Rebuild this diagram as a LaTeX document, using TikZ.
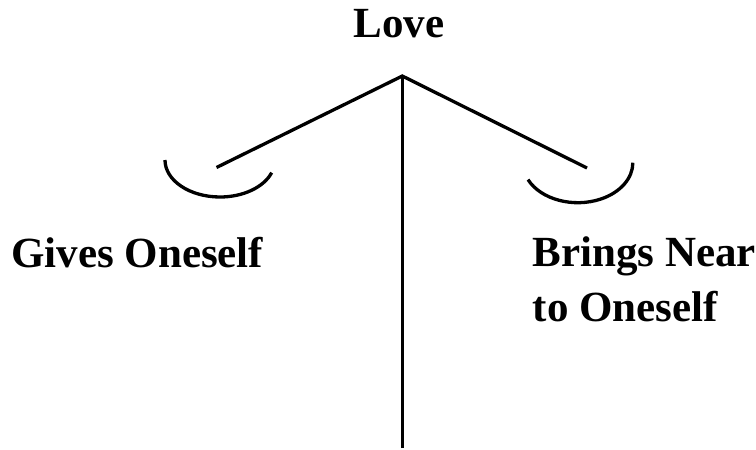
\documentclass[tikz,border=0pt]{standalone}
\usepackage{fontspec}
\setmainfont{Liberation Serif}
\begin{document}
\begin{tikzpicture}[x=1pt,y=1pt,
  beam/.style={line width=3.3pt},
  label/.style={inner sep=0pt,font=\bfseries\fontsize{43}{55}\selectfont}]
\useasboundingbox (0,0) rectangle (756,-450);
\fill[white] (0,0) rectangle (756,-450);
\coordinate (pivot) at (402.3,-76);
\coordinate (foot) at (402.3,-448);
\coordinate (leftend) at (216.5,-167.5);
\coordinate (rightend) at (587,-168);
\coordinate (leftpan) at (165,-160);
\coordinate (rightpan) at (528,-179.6);
\draw[beam] (foot) -- (pivot);
\draw[beam,line join=miter] (leftend) -- (pivot) -- (rightend);
\draw[beam] (leftpan) arc[start angle=180,end angle=340,x radius=55pt,y radius=37pt];
\draw[beam] (rightpan) arc[start angle=205,end angle=360,x radius=55pt,y radius=40pt];
\node[label,anchor=base] (love) at (399,-37.7) {Love};
\node[label,anchor=base west] (gives) at (11,-267.5) {Gives Oneself};
\node[label,anchor=base west,align=left] (brings) at (532.5,-321.7) {Brings Near\\to Oneself};
\end{tikzpicture}
\end{document}
